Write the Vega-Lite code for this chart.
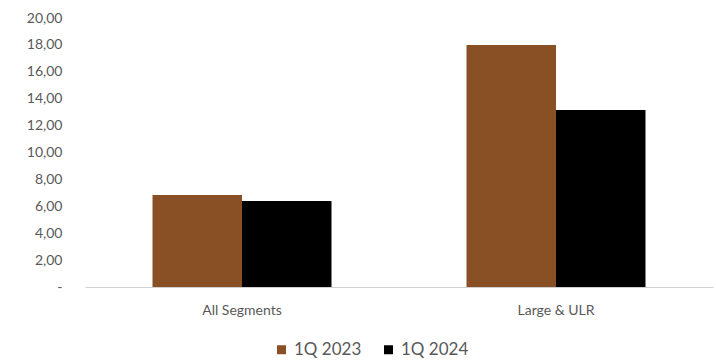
{
  "$schema": "https://vega.github.io/schema/vega-lite/v6.json",
  "autosize": {"type": "none"},
  "width": 628,
  "height": 269,
  "padding": {"left": 85, "top": 18, "right": 3, "bottom": 75},
  "background": "white",
  "data": {
    "values": [
      {"segment": "All Segments", "period": "1Q 2023", "value": 6.84},
      {"segment": "All Segments", "period": "1Q 2024", "value": 6.39},
      {"segment": "Large & ULR", "period": "1Q 2023", "value": 18.0},
      {"segment": "Large & ULR", "period": "1Q 2024", "value": 13.16}
    ]
  },
  "config": {
    "view": {"stroke": null},
    "font": "Lato",
    "axis": {"labelFont": "Lato", "labelColor": "#595959", "labelFontSize": 14}
  },
  "mark": {"type": "bar"},
  "encoding": {
    "x": {
      "field": "segment",
      "type": "nominal",
      "title": null,
      "scale": {"paddingInner": 0.43, "paddingOuter": 0.215},
      "axis": {"labelAngle": 0, "ticks": false, "domainColor": "#d0d0d0", "labelPadding": 16, "grid": false}
    },
    "xOffset": {"field": "period", "type": "nominal", "scale": {"paddingInner": 0}},
    "y": {
      "field": "value",
      "type": "quantitative",
      "title": null,
      "scale": {"domain": [0, 20]},
      "axis": {
        "values": [0, 2, 4, 6, 8, 10, 12, 14, 16, 18, 20],
        "grid": false,
        "domain": false,
        "ticks": false,
        "labelPadding": 23,
        "labelExpr": "datum.value == 0 ? '-' : replace(format(datum.value, '.2f'), '.', ',')"
      }
    },
    "color": {
      "field": "period",
      "type": "nominal",
      "scale": {"domain": ["1Q 2023", "1Q 2024"], "range": ["#8a5025", "#000000"]},
      "legend": {
        "title": null,
        "orient": "none",
        "direction": "horizontal",
        "legendX": 188,
        "legendY": 323,
        "symbolType": "square",
        "symbolSize": 81,
        "symbolStrokeWidth": 0,
        "labelOffset": 4,
        "labelFont": "Lato",
        "labelFontSize": 17,
        "labelColor": "#595959",
        "columnPadding": 18
      }
    }
  }
}
